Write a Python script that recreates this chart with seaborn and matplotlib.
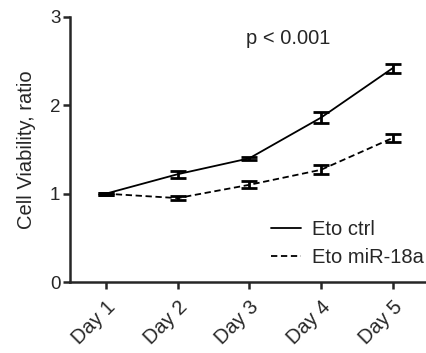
import matplotlib
matplotlib.use("Agg")
import matplotlib.pyplot as plt
import seaborn as sns
import numpy as np
import pandas as pd

days = ["Day 1", "Day 2", "Day 3", "Day 4", "Day 5"]
ctrl_mean = [1.00, 1.22, 1.40, 1.86, 2.42]
ctrl_err = [0.01, 0.04, 0.02, 0.06, 0.05]
mir_mean = [1.00, 0.95, 1.10, 1.27, 1.63]
mir_err = [0.01, 0.02, 0.04, 0.05, 0.04]
groups = ["Eto ctrl", "Eto miR-18a"]

sns.set_theme(style="ticks")
plt.rcParams['font.family'] = ['Liberation Sans', 'DejaVu Sans']

df = pd.DataFrame({
    "day": list(range(len(days))) * 2,
    "value": ctrl_mean + mir_mean,
    "group": [groups[0]] * len(days) + [groups[1]] * len(days),
})

fig = plt.figure(figsize=(4.27, 3.53), dpi=100)
ax = fig.add_axes([0.164, 0.201, 0.831, 0.751])

sns.lineplot(data=df, x="day", y="value", hue="group", style="group",
             palette=["black", "black"], dashes=[(None, None), (3.5, 2)],
             linewidth=1.3, ax=ax)

# error bars
for mean, err in [(ctrl_mean, ctrl_err), (mir_mean, mir_err)]:
    ax.errorbar(range(len(days)), mean, yerr=err, fmt="none", ecolor="black",
                elinewidth=2, capsize=5.5, capthick=2)

ax.set_xlim(-0.5, 4.45)
ax.set_ylim(0, 3)
ax.set_yticks([0, 1, 2, 3])
ax.set_xticks(range(len(days)))
ax.set_xticklabels(days, rotation=45, ha="right", rotation_mode="anchor", fontsize=14.5)
ax.tick_params(axis="y", labelsize=13.5, width=1.8, length=5, pad=2)
ax.tick_params(axis="x", width=1.8, length=5, pad=6)
ax.set_xlabel("")
ax.set_ylabel("Cell Viability, ratio", fontsize=14.5, labelpad=10)
for s in ["left", "bottom"]:
    ax.spines[s].set_linewidth(1.8)
sns.despine(ax=ax)

ax.text(2.55, 2.76, "p < 0.001", fontsize=14.5, ha="center", va="center")

ax.legend(frameon=False, loc="lower right", fontsize=14.5, handlelength=1.5,
          handletextpad=0.5, bbox_to_anchor=(1.03, 0.01), borderaxespad=0.2,
          labelspacing=0.45)

fig.savefig("out.png", dpi=100)
